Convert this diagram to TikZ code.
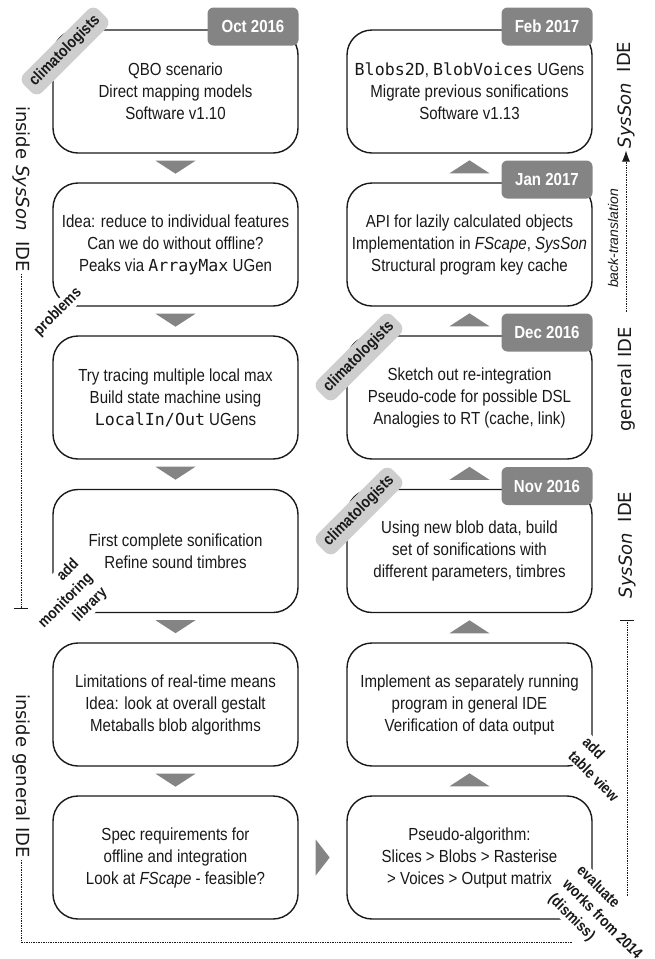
\documentclass[tikz,border=0pt]{standalone}
\usepackage{fontspec}
\setmainfont{Liberation Sans}[FakeStretch=0.86]
\setmonofont{DejaVu Sans Mono}[Scale=0.95]
\newfontfamily\dvs{DejaVu Sans}
\newfontfamily\lsi{Liberation Sans}
\usetikzlibrary{arrows.meta,calc}
\definecolor{tabgray}{RGB}{132,132,132}
\definecolor{pillgray}{RGB}{206,206,206}
\definecolor{inkc}{RGB}{25,25,25}
\tikzset{
  box/.style={draw=inkc, line width=1.4pt, rounded corners=25pt, minimum width=245pt, minimum height=123pt,
    align=center, inner sep=0pt, text=inkc, font=\fontsize{17.5}{22}\selectfont},
  datetab/.style={fill=tabgray, rounded corners=6pt, minimum width=91pt, minimum height=38pt, inner sep=0pt,
    text=white, font=\bfseries\fontsize{17.5}{20}\selectfont, anchor=north east},
  pill/.style={fill=pillgray, rounded corners=8pt, minimum height=26pt, minimum width=106pt, inner xsep=6pt, inner ysep=0pt,
    text=inkc, font=\bfseries\fontsize{16}{18}\selectfont},
  note/.style={fill=white, inner sep=1.5pt, text=inkc, font=\bfseries\fontsize{15.5}{20}\selectfont},
  vlab/.style={inner sep=2pt, text=inkc, font=\dvs\fontsize{18}{20}\selectfont},
  btlab/.style={inner sep=1pt, text=inkc, font=\lsi\itshape\fontsize{14}{16}\selectfont},
  dotline/.style={draw=inkc, line width=0.9pt, dash pattern=on 0.8pt off 0.9pt},
  tickline/.style={draw=inkc, line width=1pt},
  marker/.style={fill=tabgray}
}
\begin{document}
\begin{tikzpicture}[x=1pt,y=-1pt]
\useasboundingbox (0,0) rectangle (655,959);
% left column
\node[box] (L1) at (175.5,91.5) {QBO scenario\\Direct mapping models\\Software v1.10};
\node[box] (L2) at (175.5,244.5) {Idea: reduce to individual features\\Can we do without offline?\\Peaks via \texttt{ArrayMax} UGen};
\node[box] (L3) at (175.5,397.5) {Try tracing multiple local max\\Build state machine using\\\texttt{LocalIn/Out} UGens};
\node[box] (L4) at (175.5,551) {First complete sonification\\Refine sound timbres};
\node[box] (L5) at (175.5,704.5) {Limitations of real-time means\\Idea: look at overall gestalt\\Metaballs blob algorithms};
\node[box] (L6) at (175.5,857.5) {Spec requirements for\\offline and integration\\Look at \textit{FScape} - feasible?};
% right column
\node[box] (R1) at (469.5,91.5) {\texttt{Blobs2D}, \texttt{BlobVoices} UGens\\Migrate previous sonifications\\Software v1.13};
\node[box] (R2) at (469.5,244.5) {API for lazily calculated objects\\Implementation in \textit{FScape}, \textit{SysSon}\\Structural program key cache};
\node[box] (R3) at (469.5,397.5) {Sketch out re-integration\\Pseudo-code for possible DSL\\Analogies to RT (cache, link)};
\node[box] (R4) at (469.5,551) {Using new blob data, build\\set of sonifications with\\different parameters, timbres};
\node[box] (R5) at (469.5,704.5) {Implement as separately running\\program in general IDE\\Verification of data output};
\node[box] (R6) at (469.5,857.5) {Pseudo-algorithm:\\Slices > Blobs > Rasterise\\> Voices > Output matrix};
% date tabs
\node[datetab] (T1) at ([yshift=22pt]L1.north east) {Oct 2016};
\node[datetab] (T2) at ([yshift=22pt]R1.north east) {Feb 2017};
\node[datetab] (T3) at ([yshift=22pt]R2.north east) {Jan 2017};
\node[datetab] (T4) at ([yshift=22pt]R3.north east) {Dec 2016};
\node[datetab] (T5) at ([yshift=22pt]R4.north east) {Nov 2016};
% down markers, left column
\foreach \b in {L1,L2,L3,L4,L5}{
  \fill[marker] ($(\b.south)+(-20,7)$) -- ($(\b.south)+(20,7)$) -- ($(\b.south)+(0,20)$) -- cycle;
}
% up markers, right column
\foreach \b in {R2,R3,R4,R5,R6}{
  \fill[marker] ($(\b.north)+(-20,-9)$) -- ($(\b.north)+(20,-9)$) -- ($(\b.north)+(0,-22)$) -- cycle;
}
% right marker
\fill[marker] ($(L6.east)+(17,-18)$) -- ($(L6.east)+(17,18)$) -- ($(L6.east)+(31,0)$) -- cycle;
% climatologists pills
\node[pill, rotate=45] (C1) at (65,51) {climatologists};
\node[pill, rotate=45] (C2) at (359,357) {climatologists};
\node[pill, rotate=45] (C3) at (359,511) {climatologists};
% notes
\node[note, rotate=45] (N1) at (58,312) {problems};
\node[note, rotate=45, align=right] (N2) at (66,601) {add\\monitoring\\library};
\node[note, rotate=-45, align=left] (N3) at (601,769) {add\\table view};
\node[note, rotate=-45, align=left] (N4) at (602,920) {evaluate\\works from 2014\\(dismiss)};
% left side labels
\node[vlab, rotate=-90] (LS) at (21,189) {inside \textit{SysSon}\hspace{0.6em}IDE};
\coordinate (LSend) at (21,608);
\draw[dotline] (LS.east) -- (LSend);
\draw[tickline] ($(LSend)+(-7,0)$) -- ($(LSend)+(7,0)$);
\node[vlab, rotate=-90] (LG) at (21,776) {inside general IDE};
\coordinate (LGc) at (21,942);
\coordinate (LGend) at (572,942);
\draw[dotline] (LG.east) -- (LGc) -- (LGend);
% right side labels
\node[vlab, rotate=90] (RS) at (626,95) {\textit{SysSon}\hspace{0.6em}IDE};
\coordinate (BTs) at (626,312);
\draw[dotline, -{Latex[length=11pt,width=8pt]}] (BTs) -- (RS.west);
\node[btlab, rotate=90] (BT) at (613,238.5) {back-translation};
\node[vlab, rotate=90] (RG) at (627,379.5) {general IDE};
\node[vlab, rotate=90] (RS2) at (627,545) {\textit{SysSon}\hspace{0.6em}IDE};
\coordinate (RT) at (627,620);
\coordinate (RTend) at (627,897);
\draw[tickline] ($(RT)+(-7,0)$) -- ($(RT)+(7,0)$);
\draw[dotline] (RT) -- (RTend);
\end{tikzpicture}
\end{document}
